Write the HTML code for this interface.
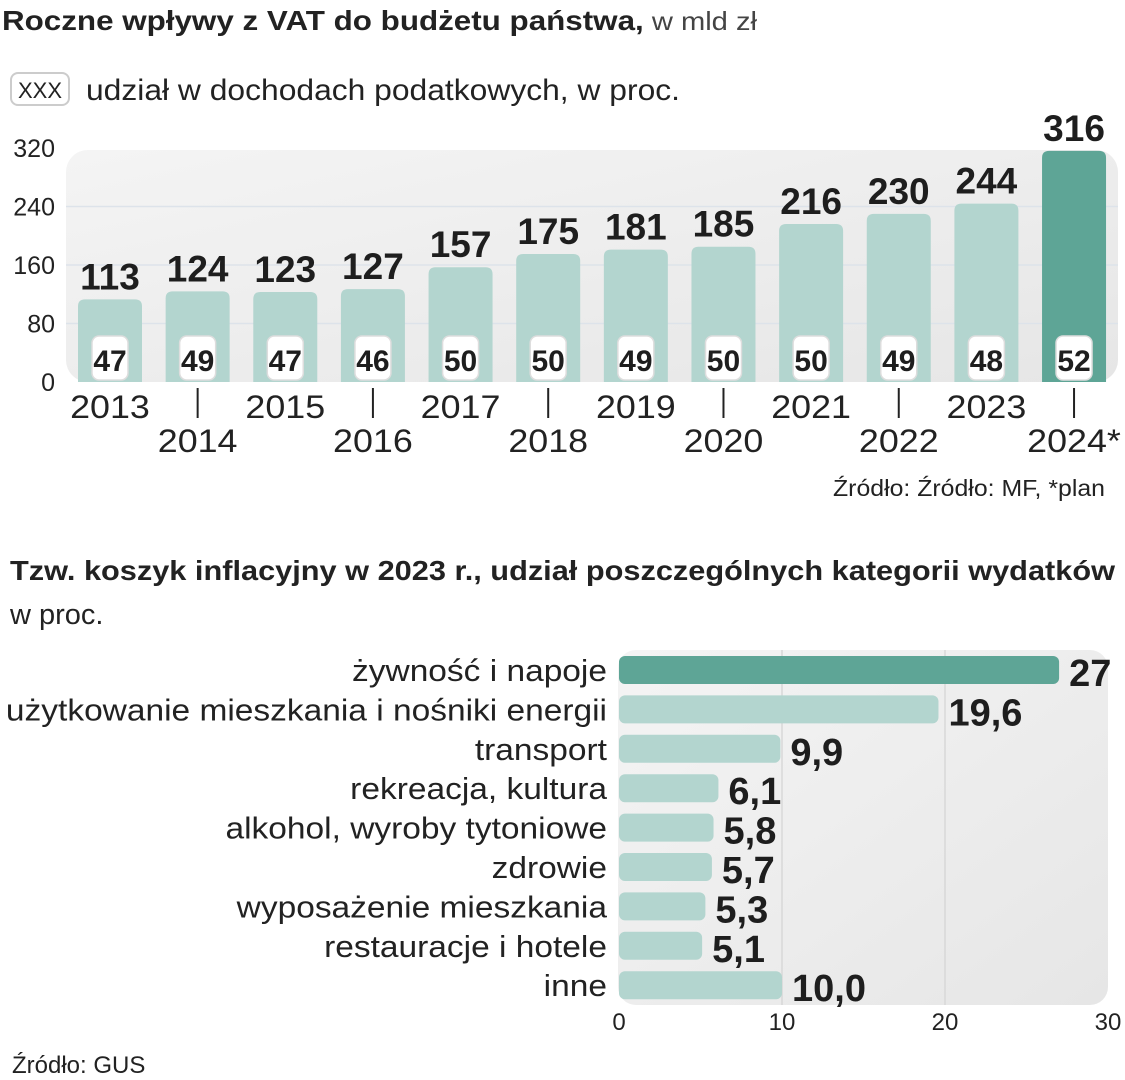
<!DOCTYPE html>
<html><head><meta charset="utf-8">
<style>
body{margin:0;background:#fff;width:1125px;height:1080px;overflow:hidden;font-family:"Liberation Sans",sans-serif;}
svg{display:block}
.t{font-family:"Liberation Sans",sans-serif;fill:#222}
.n{font-family:"Liberation Sans Narrow","Liberation Sans",sans-serif;font-weight:bold;fill:#1e1e1e}
</style></head><body>
<svg id="c" width="1125" height="1080" viewBox="0 0 1125 1080">
<defs>
<linearGradient id="pg" x1="0" y1="0" x2="1" y2="1"><stop offset="0" stop-color="#f4f4f4"/><stop offset="1" stop-color="#e6e6e6"/></linearGradient>
</defs>
<text x="2" y="30" class="t" font-size="28" textLength="755" lengthAdjust="spacingAndGlyphs"><tspan font-weight="bold">Roczne wpływy z VAT do budżetu państwa,</tspan><tspan font-size="26" fill="#444"> w mld zł</tspan></text>
<rect x="11" y="73" width="58" height="32" rx="7" fill="#fff" stroke="#ccc" stroke-width="2"/>
<text x="40" y="98" text-anchor="middle" class="t" font-size="22">XXX</text>
<text x="86" y="100" class="t" font-size="30" fill="#333" textLength="594" lengthAdjust="spacingAndGlyphs">udział w dochodach podatkowych, w proc.</text>
<rect x="66" y="150" width="1052" height="232" rx="22" fill="url(#pg)"/>
<g id="gtop"></g>
<text x="1105" y="496" text-anchor="end" class="t" font-size="23" fill="#444" textLength="272" lengthAdjust="spacingAndGlyphs">Źródło: Źródło: MF, *plan</text>
<text x="10" y="580" class="t" font-size="28" font-weight="bold" textLength="1105" lengthAdjust="spacingAndGlyphs">Tzw. koszyk inflacyjny w 2023 r., udział poszczególnych kategorii wydatków</text>
<text x="10" y="624" class="t" font-size="29" fill="#444">w proc.</text>
<rect x="618" y="650" width="490" height="355" rx="18" fill="url(#pg)"/>
<g id="gbot"></g>
<text x="12" y="1073" class="t" font-size="24" fill="#444">Źródło: GUS</text>
</svg>
<script>
const years=['2013','2014','2015','2016','2017','2018','2019','2020','2021','2022','2023','2024*'];
const vat=[113,124,123,127,157,175,181,185,216,230,244,316];
const share=[47,49,47,46,50,50,49,50,50,49,48,52];
const yTicks=[0,80,160,240,320];
const cats=['żywność i napoje','użytkowanie mieszkania i nośniki energii','transport','rekreacja, kultura','alkohol, wyroby tytoniowe','zdrowie','wyposażenie mieszkania','restauracje i hotele','inne'];
const pct=[27,19.6,9.9,6.1,5.8,5.7,5.3,5.1,10.0];
const xTicks=[0,10,20,30];
const NS='http://www.w3.org/2000/svg';
function mk(p,tag,a,txt){const e=document.createElementNS(NS,tag);for(const k in a)e.setAttribute(k,a[k]);if(txt!==undefined)e.textContent=txt;p.appendChild(e);return e;}
function widen(e,f){const w=e.getComputedTextLength();if(w>0){e.setAttribute('textLength',w*f);e.setAttribute('lengthAdjust','spacingAndGlyphs');}}
const gTop=document.getElementById('gtop'),gBot=document.getElementById('gbot');
const yS=v=>382-v*(234/320);
const xc=i=>110+i*87.64;
yTicks.forEach(t=>{
  if(t>0&&t<320){const l=mk(gTop,'line',{x1:66,x2:1118,y1:yS(t),y2:yS(t),stroke:'#dde3ea','stroke-width':1.5});
  
  }
  const e=mk(gTop,'text',{x:55,y:yS(t)+9,'text-anchor':'end','font-size':25,fill:'#444',class:'t'},t);
  
  
});
vat.forEach((v,i)=>{
  const last=i===vat.length-1;
  const b=mk(gTop,'path',{d:`M${xc(i)-32},382 V${yS(v)+7} q0,-7 7,-7 h50 q7,0 7,7 V382 Z`,fill:last?'#5ea596':'#b3d5cf'});
  
  
  const vl=mk(gTop,'text',{x:xc(i),y:yS(v)-10,'text-anchor':'middle','font-size':37,class:'n'},v);
  
  
  const sb=mk(gTop,'rect',{x:xc(i)-18,y:336,width:36,height:44,rx:7,fill:'#fff',stroke:'#ddd','stroke-width':1.5});
  
  
  const sl=mk(gTop,'text',{x:xc(i),y:371,'text-anchor':'middle','font-size':30,class:'n','font-weight':'normal'},share[i]);
  
  
  const odd=i%2===0;
  if(!odd){const tk=mk(gTop,'line',{x1:xc(i),x2:xc(i),y1:388,y2:418,stroke:'#222','stroke-width':2});
  
  }
  const yl=mk(gTop,'text',{x:xc(i),y:odd?418:452,'text-anchor':'middle','font-size':32,class:'t',fill:'#222'},years[i]);
  
  
  widen(yl,1.12);
});
const xS=v=>619+v*(489/30);
const yr=i=>670+i*39.4;
xTicks.forEach(t=>{
  if(t>0&&t<30){const g=mk(gBot,'line',{x1:xS(t),x2:xS(t),y1:650,y2:1005,stroke:'#d8d8d8','stroke-width':1.5});
  
  }
  const e=mk(gBot,'text',{x:xS(t),y:1030,'text-anchor':'middle','font-size':24,fill:'#444',class:'t'},t);
  
  
});
pct.forEach((v,i)=>{
  const b=mk(gBot,'rect',{x:xS(0),y:yr(i)-14,width:xS(v)-xS(0),height:28,rx:6,fill:i===0?'#5ea596':'#b3d5cf'});
  
  
  const c=mk(gBot,'text',{x:607,y:yr(i)+11,'text-anchor':'end','font-size':31,class:'t',fill:'#222'},cats[i]);
  
  
  widen(c,1.08);
  const vl=mk(gBot,'text',{x:xS(v)+10,y:yr(i)+16,'font-size':38,class:'n'},String(i===8?v.toFixed(1):v).replace('.',','));
  
  
});
</script>
</body></html>
